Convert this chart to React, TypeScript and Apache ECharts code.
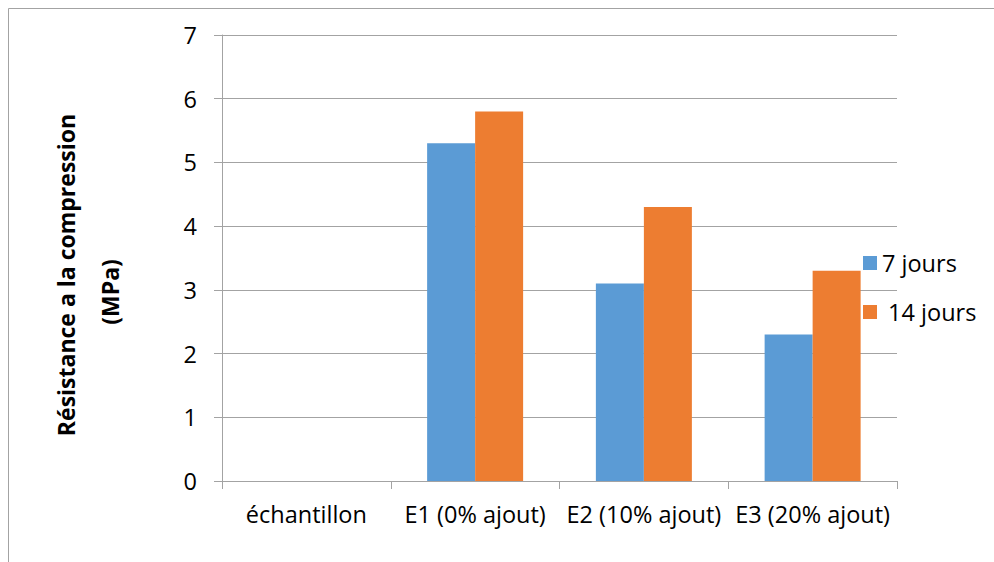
import React, { useEffect, useRef } from "react";
import * as echarts from "echarts";

const categories = ["échantillon", "E1 (0% ajout)", "E2 (10% ajout)", "E3 (20% ajout)"];
const jours7: (number | null)[] = [null, 5.3, 3.1, 2.3];
const jours14: (number | null)[] = [null, 5.8, 4.3, 3.3];
const seriesNames = ["7 jours", "\u00a014 jours"];
const yTitleLines = ["Résistance a la compression", "(MPa)"];

const FONT = "'Open Sans', sans-serif";
const GRAY = "#a3a3a3";

export default function App() {
  const ref = useRef<HTMLDivElement>(null);
  useEffect(() => {
    if (!ref.current) return;
    const chart = echarts.init(ref.current, null, { renderer: "svg" });
    chart.setOption({
      animation: false,
      backgroundColor: "#ffffff",
      grid: { left: 222, right: 97, top: 35, bottom: 81, containLabel: false },
      legend: {
        orient: "vertical",
        left: 858,
        top: 246,
        itemWidth: 14,
        itemHeight: 14,
        itemGap: 25,
        icon: "rect",
        textStyle: { fontFamily: FONT, fontSize: 23.5, color: "#000" },
        data: seriesNames,
      },
      xAxis: {
        type: "category",
        data: categories,
        axisLine: { show: true, lineStyle: { color: GRAY, width: 1 } },
        axisTick: { show: true, alignWithLabel: false, length: 8, lineStyle: { color: GRAY } },
        axisLabel: { margin: 21, fontFamily: FONT, fontSize: 23.5, color: "#000", interval: 0 },
        splitLine: { show: false },
      },
      yAxis: {
        type: "value",
        min: 0,
        max: 7,
        interval: 1,
        axisLine: { show: true, lineStyle: { color: GRAY, width: 1 } },
        axisTick: { show: true, length: 8, lineStyle: { color: GRAY } },
        axisLabel: { margin: 25, fontFamily: FONT, fontSize: 23.5, color: "#000" },
        splitLine: { show: true, lineStyle: { color: GRAY, width: 1 } },
      },
      series: [
        {
          name: seriesNames[0],
          type: "bar",
          data: jours7,
          barWidth: 48,
          barGap: "0%",
          itemStyle: { color: "#5b9bd5" },
        },
        {
          name: seriesNames[1],
          type: "bar",
          data: jours14,
          barWidth: 48,
          barGap: "0%",
          itemStyle: { color: "#ed7d31" },
        },
      ],
      graphic: [
        {
          type: "rect",
          shape: { x: 8.5, y: 8.5, width: 1200, height: 800 },
          style: { fill: "none", stroke: GRAY, lineWidth: 1 },
          silent: true,
        },
        {
          type: "text",
          x: 66,
          y: 275,
          rotation: Math.PI / 2,
          style: {
            text: yTitleLines[0],
            fontFamily: FONT,
            fontWeight: "bold",
            fontSize: 23,
            fill: "#000",
            align: "center",
            verticalAlign: "middle",
          },
        },
        {
          type: "text",
          x: 110,
          y: 292,
          rotation: Math.PI / 2,
          style: {
            text: yTitleLines[1],
            fontFamily: FONT,
            fontWeight: "bold",
            fontSize: 23,
            fill: "#000",
            align: "center",
            verticalAlign: "middle",
          },
        },
      ],
    });
    return () => chart.dispose();
  }, []);
  return (
    <div
      ref={ref}
      style={{ position: "absolute", left: 0, top: 0, width: 994, height: 562 }}
    />
  );
}
